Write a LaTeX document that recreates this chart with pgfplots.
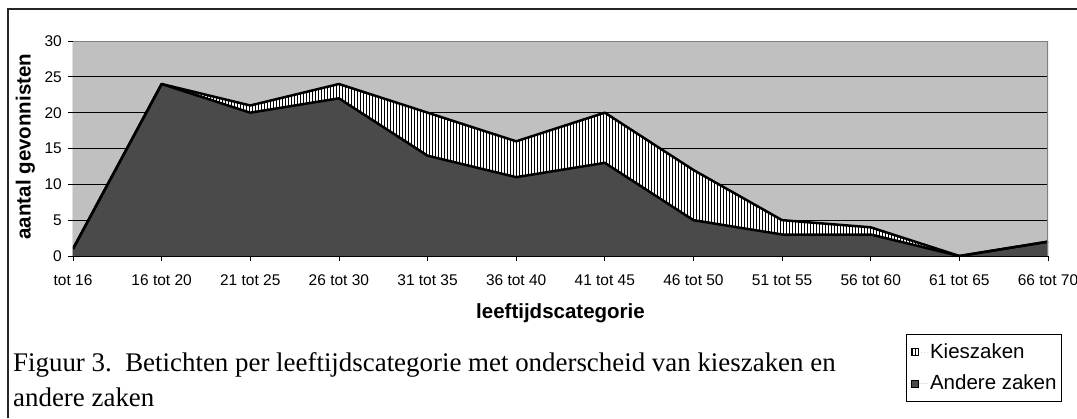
\documentclass[border=0pt]{standalone}
\usepackage{pgfplots}
\pgfplotsset{compat=1.18}
\usetikzlibrary{patterns}
\usepackage{fontspec}
\setmainfont{Liberation Serif}
\newfontfamily\arial{Liberation Sans}
\definecolor{plotgray}{HTML}{C0C0C0}
\definecolor{bordergray}{HTML}{808080}
\definecolor{darkfill}{HTML}{4A4A4A}
\begin{document}
\begin{tikzpicture}[x=1pt,y=1pt]
\path[use as bounding box] (0,0) rectangle (1077,418);
\draw[line width=1.3pt, black!85] (8,0) -- (8,409) -- (1077,409);
\begin{axis}[
  at={(73pt,162pt)}, anchor=south west,
  scale only axis, width=975pt, height=215pt,
  xmin=0, xmax=11, ymin=0, ymax=30,
  xtick={0,...,11},
  xticklabels={tot 16,16 tot 20,21 tot 25,26 tot 30,31 tot 35,36 tot 40,41 tot 45,46 tot 50,51 tot 55,56 tot 60,61 tot 65,66 tot 70},
  ytick={0,5,...,30},
  /pgf/number format/assume math mode=true,
  ymajorgrids, grid style={black, line width=0.8pt},
  axis background/.style={fill=plotgray},
  axis line style={draw=none},
  tick align=outside, major tick length=5pt,
  tick style={black, line width=0.8pt},
  xtick pos=bottom, ytick pos=left,
  ticklabel style={font=\arial\fontsize{15.5}{18}\selectfont},
  xticklabel style={anchor=base, inner sep=0pt, yshift=-24pt},
  yticklabel style={anchor=east, inner sep=0pt, xshift=-6pt},
  xlabel={leeftijdscategorie},
  ylabel={aantal gevonnisten},
  xlabel style={at={(axis description cs:0.5,-0.2884)}, anchor=base, inner sep=0pt, font=\arial\bfseries\fontsize{20.5}{24}\selectfont},
  ylabel style={at={(axis description cs:-0.0434,0.509)}, anchor=base, inner sep=0pt, font=\arial\bfseries\fontsize{20.5}{24}\selectfont},
  legend style={at={(rel axis cs:0.854,-0.363)}, anchor=north west, draw=black, line width=0.8pt,
    font=\arial\fontsize{20.5}{24}\selectfont, inner xsep=3pt, inner ysep=7pt,
    row sep=9.4pt, nodes={inner sep=2pt, text depth=3pt}, cells={anchor=west}},
  legend image code/.code={\path (-2pt,0) -- (17pt,0);
    \draw[#1, draw=black, line width=0.8pt] (0pt,-3.5pt) rectangle (7pt,3.5pt);},
]
\addplot[draw=none, fill=white, postaction={pattern=vertical lines}] coordinates {
  (0,1) (1,24) (2,21) (3,24) (4,20) (5,16) (6,20) (7,12) (8,5) (9,4) (10,0) (11,2)} \closedcycle;
\addlegendentry{Kieszaken}
\addplot[draw=none, fill=darkfill] coordinates {
  (0,1) (1,24) (2,20) (3,22) (4,14) (5,11) (6,13) (7,5) (8,3) (9,3) (10,0) (11,2)} \closedcycle;
\addlegendentry{Andere zaken}
\addplot[forget plot, black, line width=2.5pt, line join=round] coordinates {
  (0,1) (1,24) (2,21) (3,24) (4,20) (5,16) (6,20) (7,12) (8,5) (9,4) (10,0) (11,2)};
\addplot[forget plot, black, line width=2.5pt, line join=round] coordinates {
  (0,1) (1,24) (2,20) (3,22) (4,14) (5,11) (6,13) (7,5) (8,3) (9,3) (10,0) (11,2)};
\draw[bordergray, line width=2pt] (rel axis cs:0,1) -- (rel axis cs:1,1) -- (rel axis cs:1,0);
\draw[black, line width=1pt] (rel axis cs:0,1) -- (rel axis cs:0,0) -- (rel axis cs:1,0);
\end{axis}
\node[anchor=base west, inner sep=0pt, font=\fontsize{26.9}{30}\selectfont] at (13,46) {Figuur 3.\ \ Betichten per leeftijdscategorie met onderscheid van kieszaken en};
\node[anchor=base west, inner sep=0pt, font=\fontsize{26.9}{30}\selectfont] at (13,11.3) {andere zaken};
\end{tikzpicture}
\end{document}
